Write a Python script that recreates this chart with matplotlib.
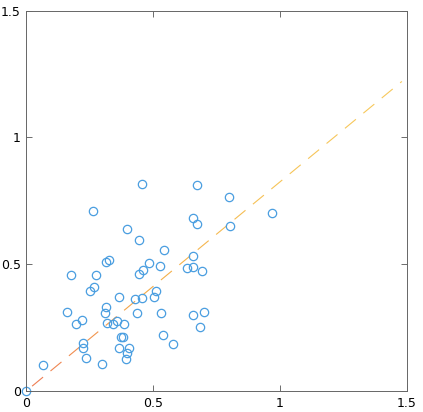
import matplotlib
matplotlib.use("Agg")
import matplotlib.pyplot as plt
import numpy as np
from matplotlib.collections import LineCollection
from matplotlib.colors import LinearSegmentedColormap

x = [0.0, 0.066, 0.161, 0.175, 0.198, 0.221, 0.223, 0.223, 0.236, 0.252,
     0.263, 0.267, 0.276, 0.297, 0.311, 0.313, 0.315, 0.318, 0.328, 0.340,
     0.358, 0.365, 0.365, 0.372, 0.382, 0.386, 0.394, 0.396, 0.399, 0.404,
     0.429, 0.437, 0.446, 0.446, 0.455, 0.455, 0.459, 0.482, 0.505, 0.513,
     0.529, 0.532, 0.537, 0.541, 0.578, 0.633, 0.656, 0.656, 0.657, 0.659,
     0.671, 0.672, 0.683, 0.692, 0.702, 0.797, 0.802, 0.967]
y = [0.0, 0.102, 0.313, 0.457, 0.263, 0.281, 0.188, 0.171, 0.130, 0.394,
     0.709, 0.412, 0.457, 0.106, 0.306, 0.507, 0.331, 0.270, 0.517, 0.265,
     0.277, 0.369, 0.169, 0.214, 0.214, 0.263, 0.128, 0.148, 0.639, 0.168,
     0.364, 0.309, 0.597, 0.463, 0.815, 0.368, 0.476, 0.503, 0.370, 0.393,
     0.492, 0.307, 0.220, 0.557, 0.187, 0.486, 0.491, 0.298, 0.534, 0.681,
     0.659, 0.813, 0.251, 0.475, 0.313, 0.767, 0.651, 0.702]

slope = 0.825
line_x = [0.0, 1.48]

fig = plt.figure(figsize=(4.23, 4.12), dpi=100)
ax = fig.add_axes([0.062, 0.051, 0.900, 0.923])

# dashed fit line with orange -> yellow gradient, one segment per dash
cmap = LinearSegmentedColormap.from_list("oy", ["#ee7a55", "#f4ad48", "#f6c458", "#f7c95c"])
length = np.hypot(line_x[1] - line_x[0], slope * (line_x[1] - line_x[0]))
dash, gap = 0.056, 0.038
segs, cols = [], []
t = 0.03
while t < length:
    t1 = min(t + dash, length)
    xa = line_x[0] + (t / length) * (line_x[1] - line_x[0])
    xb = line_x[0] + (t1 / length) * (line_x[1] - line_x[0])
    segs.append([(xa, slope * xa), (xb, slope * xb)])
    cols.append(cmap((t + t1) / 2 / length))
    t += dash + gap
ax.add_collection(LineCollection(segs, colors=cols, linewidths=0.8))

ax.plot(x, y, 'o', mfc='none', mec='#4a9ee0', ms=6, mew=0.9, clip_on=False)

ax.set_xlim(0, 1.5)
ax.set_ylim(0, 1.5)
ticks = [0, 0.5, 1, 1.5]
ax.set_xticks(ticks)
ax.set_yticks(ticks)
ax.set_xticklabels(["0", "0.5", "1", "1.5"])
ax.set_yticklabels(["0", "0.5", "1", "1.5"])
ax.tick_params(direction='in', top=True, right=True, length=4, width=0.6,
               color='#555555', labelsize=9, pad=4)
for s in ax.spines.values():
    s.set_color('#666666')
    s.set_linewidth(0.7)

fig.savefig("out.png", dpi=100)
